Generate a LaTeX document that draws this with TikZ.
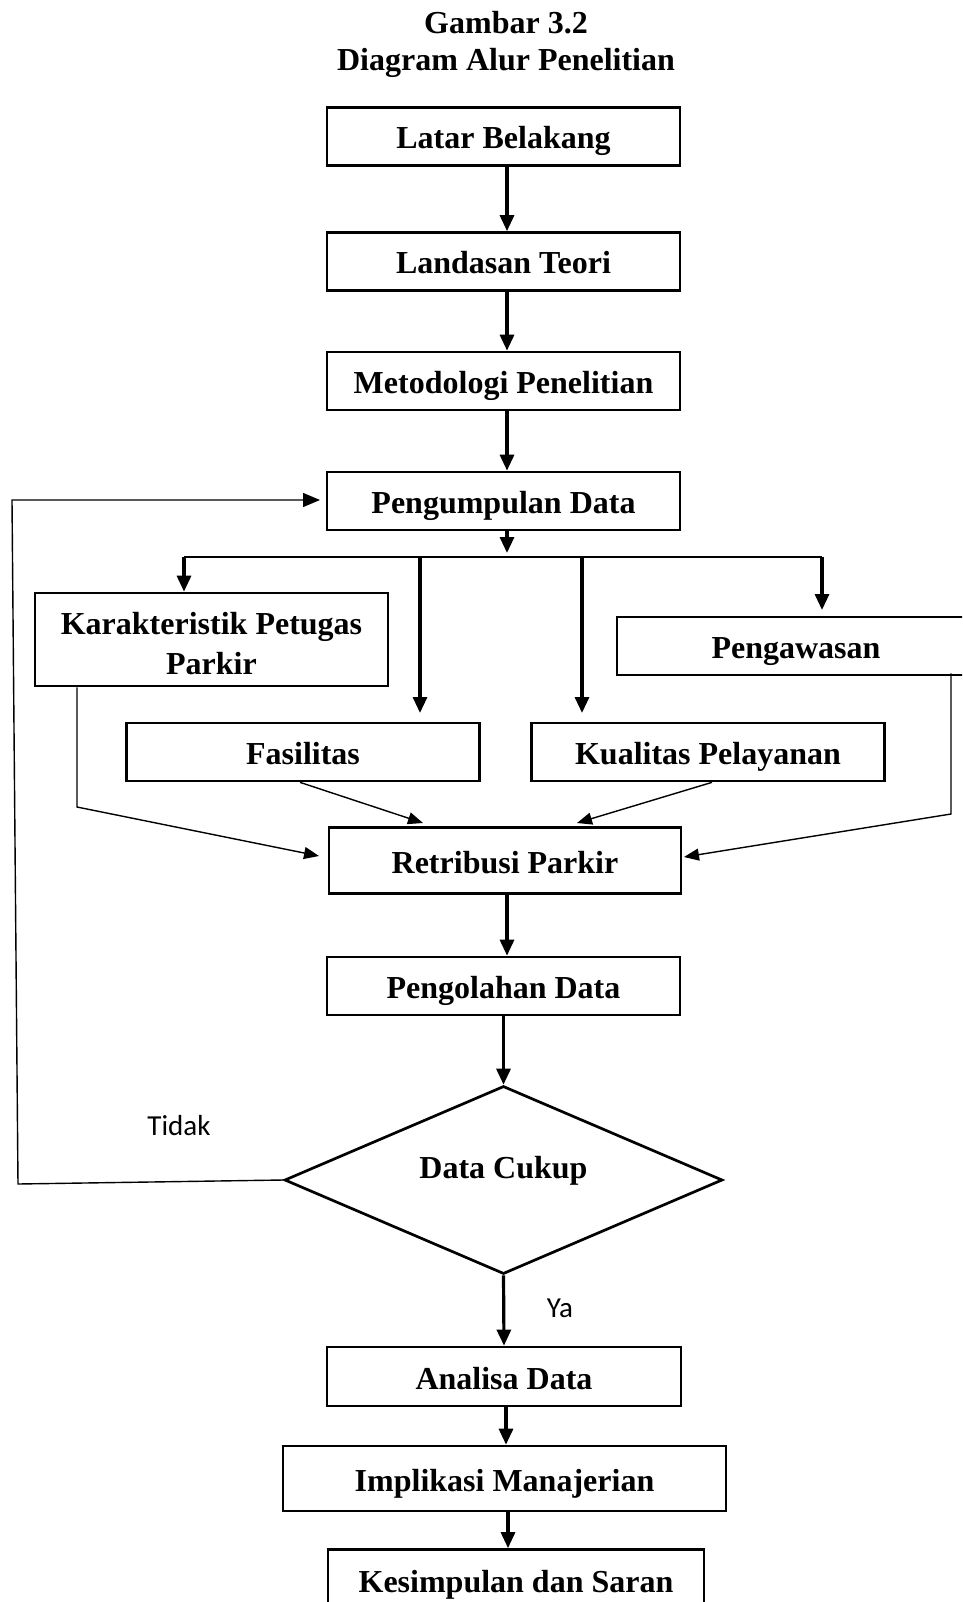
\documentclass[tikz,border=0pt]{standalone}
\usepackage{fontspec}
\setmainfont{Liberation Serif}
\newfontfamily\calib{Carlito}
\usetikzlibrary{arrows.meta,shapes.geometric,calc}
\begin{document}
\begin{tikzpicture}[x=1pt,y=-1pt,
  box/.style={draw,line width=2.7pt,rectangle,inner sep=0pt,minimum height=58pt,minimum width=353pt,
              text height=25pt,text depth=0pt,
              font=\fontsize{32}{37}\selectfont\bfseries,align=center},
  titletext/.style={anchor=base,font=\fontsize{32}{38}\selectfont\bfseries},
  thickarrow/.style={line width=3.2pt,-{Triangle[length=16pt,width=14pt]}},
  thinarrow/.style={line width=1.4pt,-{Triangle[length=15pt,width=12pt]}},
  fbarrow/.style={line width=1.4pt,-{Triangle[length=17pt,width=14pt]}},
  lbl/.style={font=\calib\fontsize{29}{34}\selectfont}]

\useasboundingbox (0,0) rectangle (962,1602);
\clip (0,0) rectangle (962,1602);

% title
\node[titletext] (t1) at (506,34) {Gambar 3.2};
\node[titletext] (t2) at (506,71) {Diagram Alur Penelitian};

% boxes
\node[box] (lb) at (503.5,136.5) {Latar Belakang};
\node[box] (lt) at (503.5,261.5) {Landasan Teori};
\node[box] (mp) at (503.5,381) {Metodologi Penelitian};
\node[box] (pd) at (503.5,501) {Pengumpulan Data};
\node[box,minimum height=93pt,text height={},text depth={},font=\fontsize{32}{39.5}\selectfont\bfseries] (kp) at (211.5,639.5) {\rule{0pt}{30pt}Karakteristik Petugas\\Parkir};
\node[box,minimum width=358pt] (pw) at (796,646) {Pengawasan};
\node[box] (fa) at (303,752) {Fasilitas};
\node[box] (ku) at (708,752) {Kualitas Pelayanan};
\node[box,minimum height=66pt,minimum width=352pt] (rp) at (505,860.5) {Retribusi Parkir};
\node[box] (po) at (503.5,986) {Pengolahan Data};
\node[diamond,draw,line width=2.7pt,minimum width=438pt,minimum height=188pt,inner sep=0pt,
      text height=0pt,text depth=4pt,
      font=\fontsize{32}{38}\selectfont\bfseries] (dc) at (503.5,1180) {Data Cukup};
\node[box,minimum height=59pt,minimum width=354pt] (ad) at (504,1376.5) {Analisa Data};
\node[box,minimum width=443pt,minimum height=65pt] (im) at (504.5,1478.5) {Implikasi Manajerian};
\node[box,minimum width=376pt,minimum height=60pt] (ks) at (516,1579.5) {Kesimpulan dan Saran};

% labels
\node[lbl] (tidak) at (179,1126) {Tidak};
\node[lbl] (ya) at (560,1308) {Ya};

% main vertical arrows
\draw[thickarrow] ([xshift=3.5pt]lb.south) -- ([xshift=3.5pt]lt.north);
\draw[thickarrow] ([xshift=3.5pt]lt.south) -- ([xshift=3.5pt]mp.north);
\draw[thickarrow] ([xshift=3.5pt]mp.south) -- ([xshift=3.5pt]pd.north);

% branching
\coordinate (br) at (507,553);
\draw[thickarrow] ([xshift=3.5pt]pd.south) -- (br);
\coordinate (bl) at (184,557);
\coordinate (b2) at (420,557);
\coordinate (b2e) at (420,713);
\coordinate (b3) at (582,557);
\coordinate (b3e) at (582,713);
\coordinate (b4) at (822,557);
\coordinate (b4e) at (822,610);
\draw[line width=1.8pt] (bl) -- (b4);
\draw[thickarrow] (bl) -- (bl |- kp.north);
\draw[thickarrow] (b2) -- (b2e);
\draw[thickarrow] (b3) -- (b3e);
\draw[thickarrow] (b4) -- (b4e);

% thin converging arrows into Retribusi Parkir
\coordinate (k1) at (77,807);
\coordinate (rpl) at (319,856);
\draw[thinarrow] (kp.south -| k1) -- (k1) -- (rpl);
\coordinate (rpt1) at (423,823);
\draw[thinarrow] ([xshift=-3pt]fa.south) -- (rpt1);
\coordinate (rpt2) at (577,823);
\draw[thinarrow] ([xshift=4pt]ku.south) -- (rpt2);
\coordinate (p1) at (951,814);
\coordinate (rpr) at (684,857);
\draw[thinarrow] ([yshift=3pt]pw.south -| p1) -- (p1) -- (rpr);

% lower chain
\draw[thickarrow] ([xshift=2pt]rp.south) -- ([xshift=3.5pt]po.north);
\draw[thickarrow] (po.south) -- (dc.north);
\draw[thickarrow] (dc.south) -- (ad.north);
\coordinate (ado) at ([xshift=2pt]ad.south);
\draw[thickarrow] (ado) -- (ado |- im.north);
\coordinate (imo) at ([xshift=3.5pt]im.south);
\draw[thickarrow] (imo) -- (imo |- ks.north);

% feedback loop
\coordinate (fb1) at (18,1184);
\coordinate (fb2) at (12,500);
\coordinate (pdl) at (320,500);
\draw[fbarrow] (dc.west) -- (fb1) -- (fb2) -- (pdl);
\end{tikzpicture}
\end{document}
